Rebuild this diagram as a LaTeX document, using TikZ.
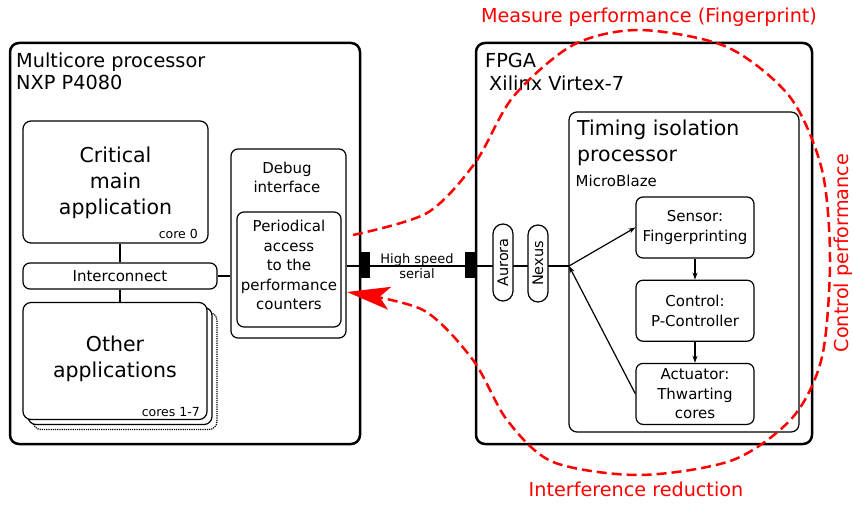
\documentclass[tikz,border=0pt]{standalone}
\usepackage{fontspec}
\setmainfont{DejaVu Sans}
\usetikzlibrary{positioning, arrows.meta}
\newcommand{\appfont}{\fontsize{20.5}{26}\selectfont}
\newcommand{\headfont}{\fontsize{19.3}{22.5}\selectfont}
\newcommand{\boxfont}{\fontsize{15}{19.5}\selectfont}
\newcommand{\cornerfont}{\fontsize{12.5}{15}\selectfont}
\newcommand{\linkfont}{\fontsize{13}{15}\selectfont}
\tikzset{
>={Stealth[length=7pt, width=5pt]}, % small dark arrow heads
chip/.style={draw, line width=2.5pt, rounded corners=9pt, inner sep=0pt}, % the two boards
block/.style={draw, line width=1.2pt, rounded corners=8pt, fill=white, align=center, inner sep=0pt}, % boxes inside a board
stage/.style={block, rounded corners=7pt, font=\boxfont, minimum width=118pt, minimum height=61pt}, % steps of the control loop
pill/.style={draw, line width=1.2pt, rounded corners=10pt, fill=white, rotate=90, minimum width=77pt, minimum height=20pt, inner sep=0pt, font=\fontsize{14.5}{17}\selectfont}, % link protocols
port/.style={fill=black, minimum width=11pt, minimum height=26pt, inner sep=0pt}, % serial connectors
heading/.style={font=\headfont, align=left, inner sep=0pt}, % board names
corner/.style={font=\cornerfont, inner sep=0pt, anchor=base east}, % core numbers
link/.style={line width=1.2pt}, % plain wires
feedback/.style={red, line width=2.5pt, dash pattern=on 10pt off 5pt}, % the red loop
redtext/.style={red, font=\fontsize{19.2}{22}\selectfont, inner sep=0pt, anchor=base}, % loop captions
}
\begin{document}
\begin{tikzpicture}[x=1pt, y=-1pt]
\useasboundingbox (0,0) rectangle (853,505);

% boards
\node[chip, minimum width=350pt, minimum height=401pt] (p4080) at (185,243.5) {};
\node[chip, minimum width=336pt, minimum height=401pt] (fpga) at (644,243.5) {};
\node[heading, anchor=north west] (p4080name) at (16,52.3) {Multicore processor\\NXP P4080};
\node[heading, anchor=north west] (fpganame) at (485,53.3) {FPGA\\\hspace*{4pt}Xilinx Virtex-7};

% processor side
\node[block, font=\appfont, minimum width=185pt, minimum height=122pt, text depth=1.6pt] (critical) at (115.5,182) {Critical\\main\\application};
\node[corner] (core0) at (198,238) {core 0};
\node[block, font=\boxfont, rounded corners=7pt, minimum width=194pt, minimum height=26pt] (interconnect) at (120,276) {Interconnect};
\node[block, densely dotted, minimum width=184pt, minimum height=117pt] (othersB) at (125,371) {};
\node[block, minimum width=184pt, minimum height=117pt] (othersA) at (120,366) {};
\node[block, font=\appfont, minimum width=184pt, minimum height=117pt, text depth=7.6pt] (others) at (115,361) {Other\\applications};
\node[corner] (cores) at (200,416.5) {cores 1-7};
\node[block, rounded corners=7pt, minimum width=115pt, minimum height=189pt] (debug) at (288.5,243.5) {};
\node[font=\boxfont, align=center, inner sep=0pt, anchor=north] (debugname) at (287,161.6) {Debug\\interface};
\node[block, rounded corners=7pt, font=\boxfont, minimum width=104pt, minimum height=115pt, text depth=9pt] (access) at (289,269.5) {Periodical\\access\\to the\\performance\\counters};

\draw[link] (interconnect.north) -- (interconnect.north |- critical.south);
\draw[link] (interconnect.south) -- (interconnect.south |- others.north);
\draw[link] (interconnect.east) -- (interconnect.east -| debug.west);

% FPGA side
\node[block, minimum width=230pt, minimum height=320pt] (timing) at (684,272) {};
\node[heading, font=\fontsize{20.5}{25.3}\selectfont, anchor=north west] (timingname) at (577,120.1) {Timing isolation\\processor};
\node[font=\boxfont, inner sep=0pt, anchor=base west] (mbname) at (575.5,186) {MicroBlaze};
\node[stage] (sensor) at (695,227.5) {Sensor:\\Fingerprinting};
\node[stage, below=21pt of sensor] (control) {Control:\\P-Controller};
\node[stage, below=21pt of control] (actuator) {Actuator:\\Thwarting\\cores};

\coordinate (hub) at (569,266);
\draw[link] (debug.east |- hub) -- (hub);
\node[port] (portL) at (364.5,265) {};
\node[port] (portR) at (470,265) {};
\node[font=\linkfont, align=center, inner sep=0pt, anchor=north] (serial) at (417,253.1) {High speed\\serial};
\node[pill] (aurora) at (503,262.5) {Aurora};
\node[pill] (nexus) at (538,263.5) {Nexus};

\draw[link, ->] (hub) -- (sensor.west);
\draw[link, ->] (sensor) -- (control);
\draw[link, ->] (control) -- (actuator);
\draw[link, ->] (actuator.west) -- (hub);

% measure / control / reduce loop
\draw[feedback, -{Stealth[length=43pt, width=23pt, inset=10pt]}] plot[smooth] coordinates {
  (353,235) (427,213) (475,163) (513,97) (573,45) (640,30) (727,47) (790,97)
  (822,170) (830,260) (822,357) (793,417) (733,460) (640,475) (553,462)
  (507,420) (473,360) (423,310) (347,292)};
\node[redtext] (measure) at (649,23) {Measure performance (Fingerprint)};
\node[redtext, rotate=90] (controlperf) at (848,253) {Control performance};
\node[redtext] (reduce) at (636,496.7) {Interference reduction};
\end{tikzpicture}
\end{document}
